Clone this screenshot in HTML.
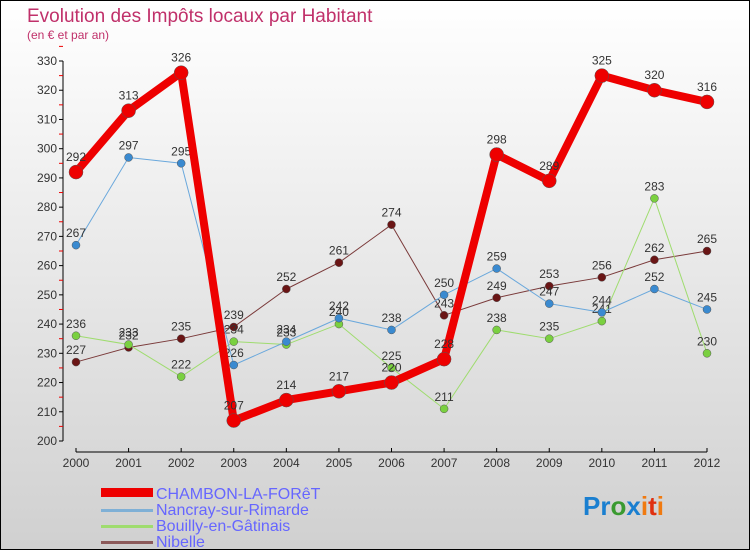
<!DOCTYPE html>
<html><head><meta charset="utf-8"><style>
html,body{margin:0;padding:0}
body{width:750px;height:550px;overflow:hidden;font-family:"Liberation Sans","DejaVu Sans",sans-serif}
#wrap{position:relative;width:748px;height:548px;border:1px solid #000;background:linear-gradient(#fff,#d0d0d0)}
</style></head><body>
<div id="wrap">
<svg id="chart" width="748" height="548" viewBox="0 0 748 548">
<text x="26" y="21" font-size="19" fill="#c0306a">Evolution des Impôts locaux par Habitant</text>
<text x="26" y="38" font-size="12" fill="#c0306a">(en € et par an)</text>
<g id="axes"></g><g id="series"></g>
<g font-size="16" fill="#6666ff">
<rect x="100" y="487" width="52" height="9" fill="#e00"/>
<text x="155" y="498">CHAMBON-LA-FORêT</text>
<rect x="100" y="508" width="52" height="3" fill="#7fb0d6"/>
<text x="155" y="514">Nancray-sur-Rimarde</text>
<rect x="100" y="524" width="52" height="3" fill="#9fdc6f"/>
<text x="155" y="530">Bouilly-en-Gâtinais</text>
<rect x="100" y="540" width="52" height="3" fill="#8c5a5a"/>
<text x="155" y="546">Nibelle</text>
</g>
<g font-size="26" font-weight="bold">
<text x="582" y="514"><tspan fill="#1a7fd0">Pr</tspan><tspan fill="#3a9a30">o</tspan><tspan fill="#1a7fd0">x</tspan><tspan fill="#f07a10">i</tspan><tspan fill="#e03010">t</tspan><tspan fill="#f07a10">i</tspan></text>
</g>
</svg></div>
<script>
const years=["2000","2001","2002","2003","2004","2005","2006","2007","2008","2009","2010","2011","2012"];
const yTicks=[200,210,220,230,240,250,260,270,280,290,300,310,320,330];
const chambon=[292,313,326,207,214,217,220,228,298,289,325,320,316];
const nancray=[267,297,295,226,234,242,238,250,259,247,244,252,245];
const bouilly=[236,233,222,234,233,240,225,211,238,235,241,283,230];
const nibelle=[227,232,235,239,252,261,274,243,249,253,256,262,265];
const NS="http://www.w3.org/2000/svg";
function X(i){return 75+i*(706-75)/(years.length-1);}
function Y(v){return 440-(v-200)*(380/130);}
function mk(t,a,p){const e=document.createElementNS(NS,t);for(const k in a)e.setAttribute(k,a[k]);p.appendChild(e);return e;}
const ax=document.getElementById('axes');
let yl=mk('line',{x1:62,y1:Y(330),x2:62,y2:440,stroke:'#000'},ax);


yTicks.forEach(v=>{
 mk('line',{x1:58,x2:62,y1:Y(v),y2:Y(v),stroke:'#000'},ax);
 mk('line',{x1:58,x2:62,y1:Y(v+5),y2:Y(v+5),stroke:'#e00'},ax);
 const t=mk('text',{x:56,y:Y(v)+4,'text-anchor':'end','font-size':12,fill:'#333'},ax);t.textContent=v;
 
 
});
let xl=mk('line',{x1:75,y1:451,x2:706,y2:451,stroke:'#000'},ax);


years.forEach((y,i)=>{
 mk('line',{x1:X(i),x2:X(i),y1:447,y2:451,stroke:'#000'},ax);
 const t=mk('text',{x:X(i),y:466,'text-anchor':'middle','font-size':12,fill:'#333'},ax);t.textContent=y;
 
 
});
const sg=document.getElementById('series');
function draw(data,color,w,r,name,dot){
 const g=mk('g',{},sg);
 
 
 const pl=mk('polyline',{points:data.map((v,i)=>X(i)+','+Y(v)).join(' '),fill:'none',stroke:color,'stroke-width':w,'stroke-linejoin':'round'},g);
 
 
 data.forEach((v,i)=>{
  const c=mk('circle',{cx:X(i),cy:Y(v),r:r,fill:dot,stroke:'#555','stroke-width':0.5},g);
  
  
  const t=mk('text',{x:X(i),y:Y(v)-r-4,'text-anchor':'middle','font-size':12,fill:'#333'},g);t.textContent=v;
  
  
 });
}
draw(nibelle,'#7a3a3a',1,4,'nibelle','#6a1515');
draw(bouilly,'#9fdc6f',1,4,'bouilly','#7ad040');
draw(nancray,'#6aa8dc',1,4,'nancray','#3a8ad0');
draw(chambon,'#ee0000',8,7,'chambon','#ee0000');
</script>
</body></html>
